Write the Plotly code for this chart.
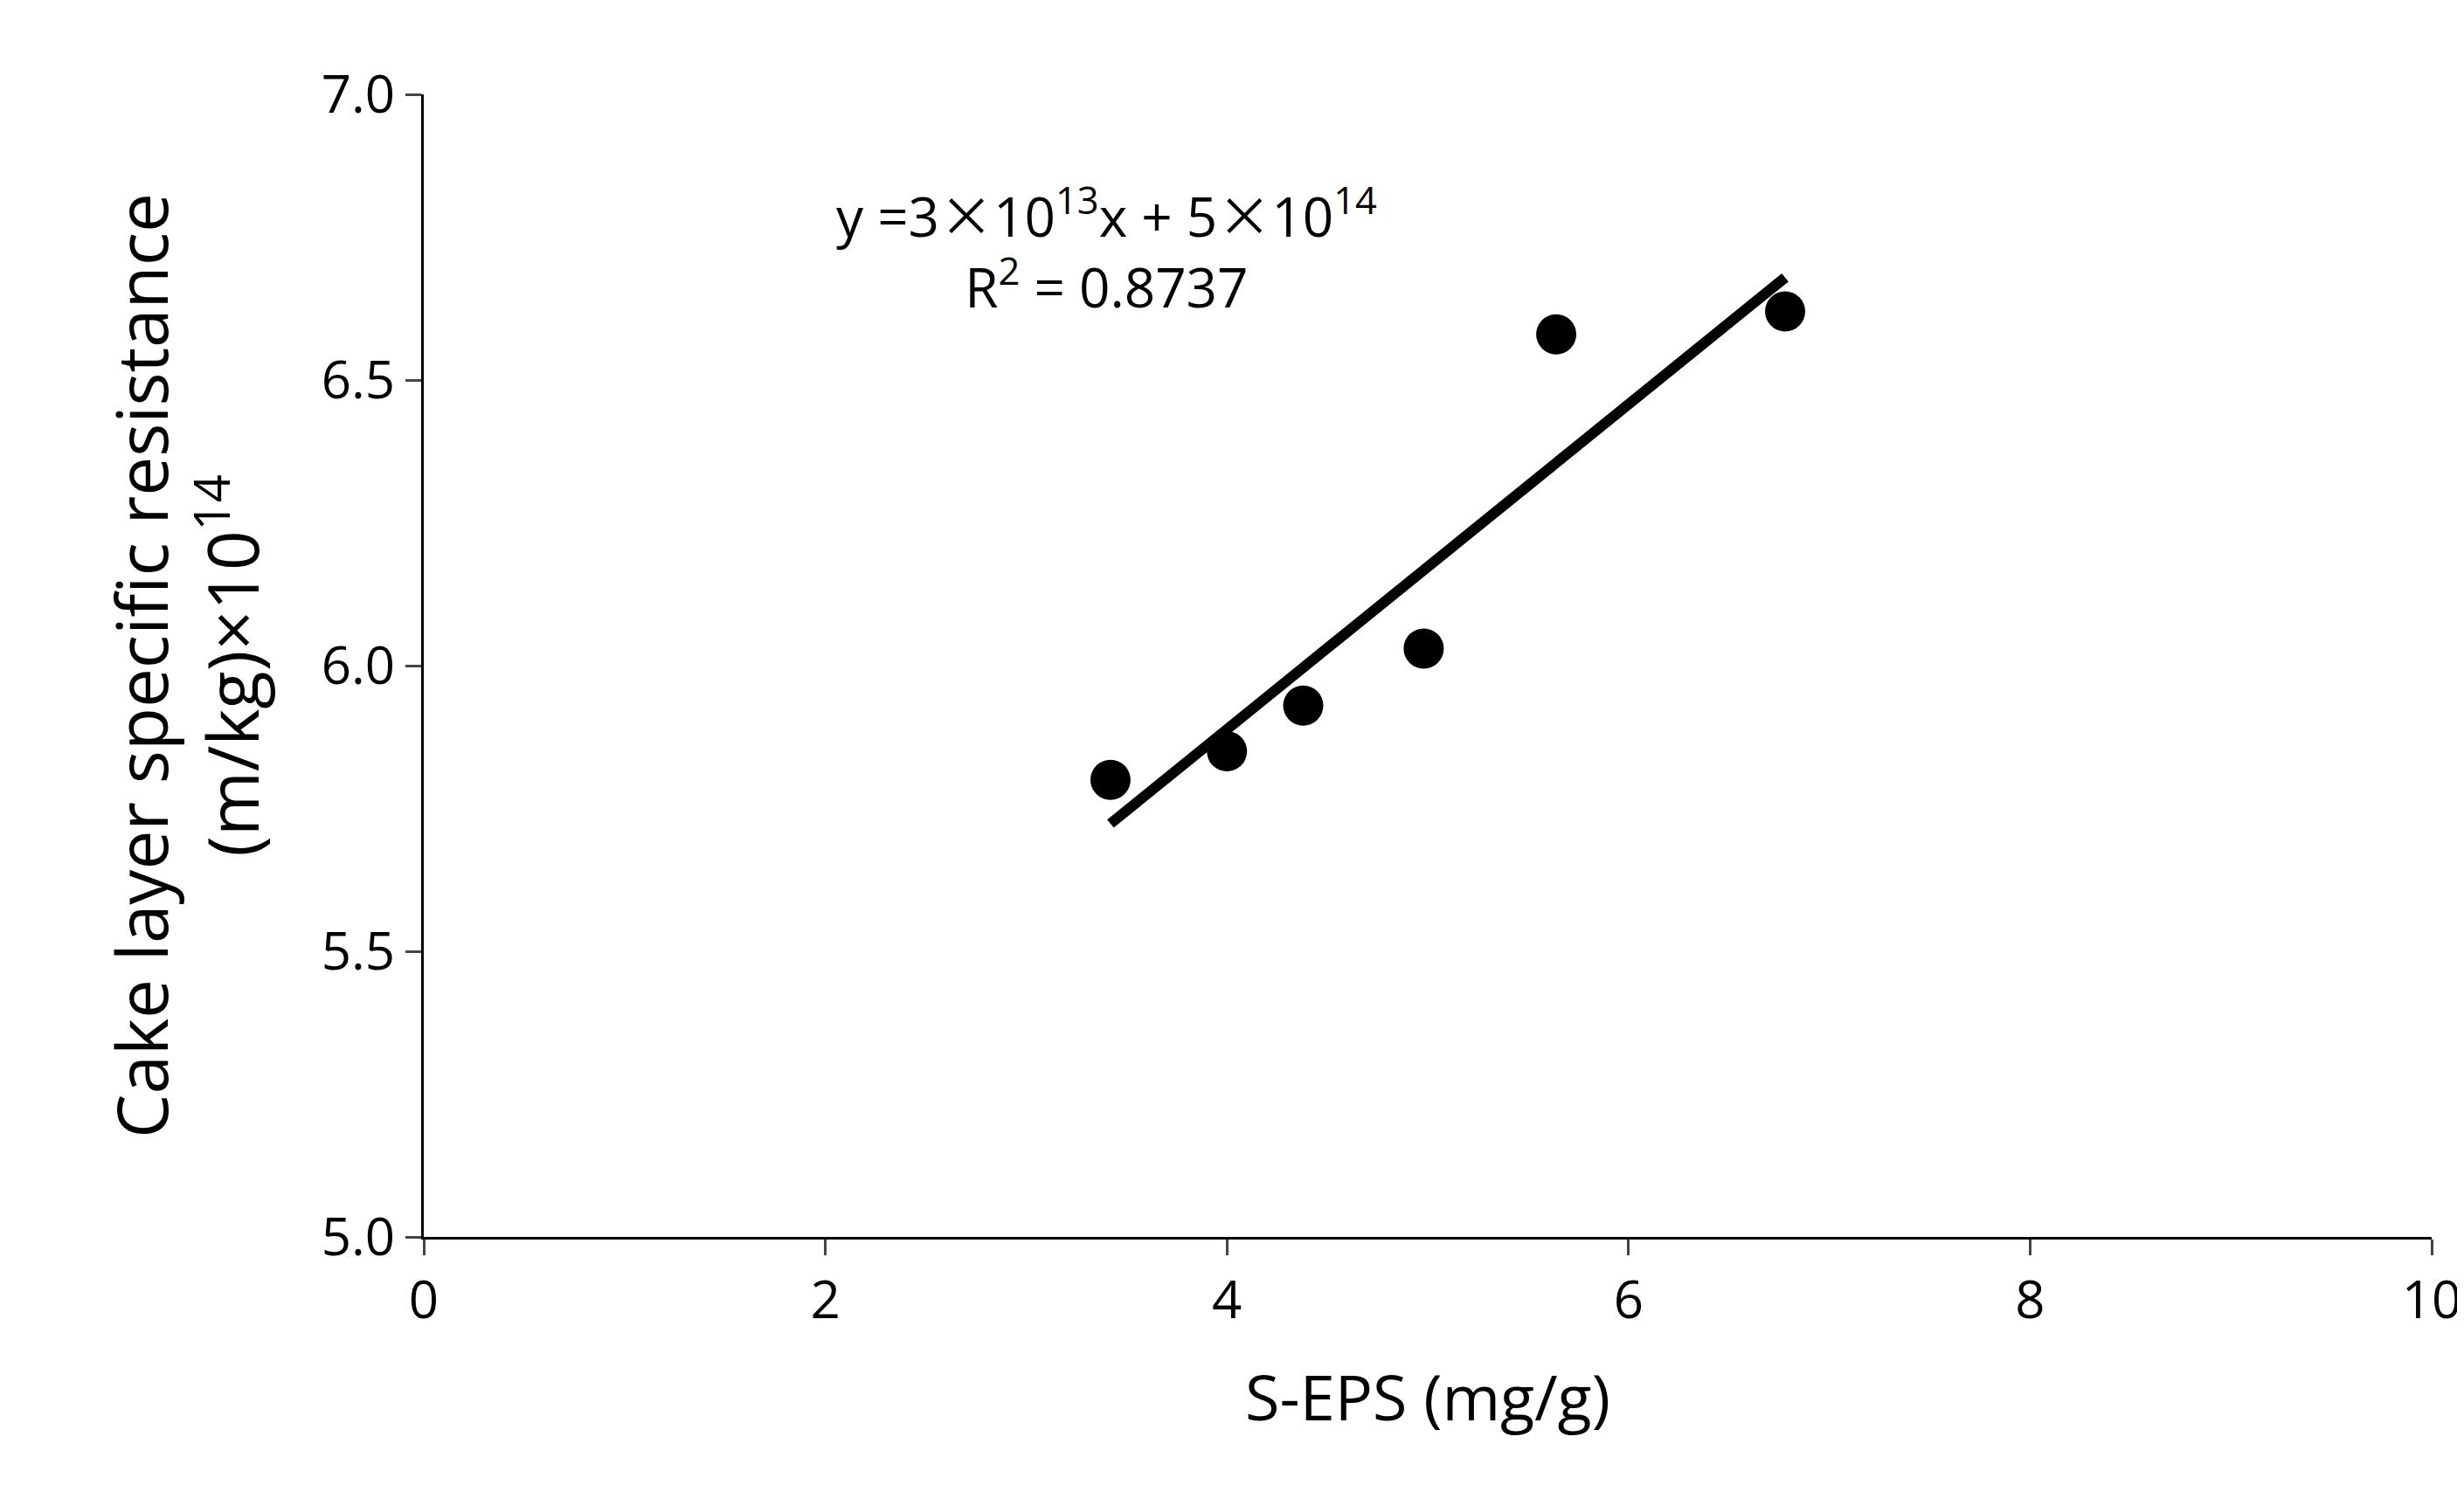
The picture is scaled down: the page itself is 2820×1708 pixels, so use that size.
import numpy as np
import plotly.graph_objects as go

x_vals = [3.42, 4.0, 4.38, 4.98, 5.64, 6.78]
y_vals = [5.80, 5.85, 5.93, 6.03, 6.58, 6.62]
x_ticks = [0, 2, 4, 6, 8, 10]
y_ticks = [5.0, 5.5, 6.0, 6.5, 7.0]

k, b = np.polyfit(x_vals, y_vals, 1)
fx = [min(x_vals), max(x_vals)]
fy = [k * v + b for v in fx]

font = "Open Sans, Liberation Sans, sans-serif"
fig = go.Figure()
fig.add_trace(go.Scatter(x=fx, y=fy, mode="lines", line=dict(color="black", width=12), showlegend=False))
fig.add_trace(go.Scatter(x=x_vals, y=y_vals, mode="markers", marker=dict(color="black", size=46), showlegend=False))

fig.add_annotation(x=3.4, y=6.73, xref="x", yref="y", showarrow=False,
                   text="y =3<span style='font-family:Noto Sans CJK SC'>×</span>10<sup>13</sup>x + 5<span style='font-family:Noto Sans CJK SC'>×</span>10<sup>14</sup><br>R<sup>2</sup> = 0.8737",
                   font=dict(size=62, color="black", family=font), align="center")

fig.update_layout(
    width=2820, height=1708, plot_bgcolor="white", paper_bgcolor="white",
    margin=dict(l=477, r=45, t=100, b=300),
    font=dict(family=font, color="black"),
)
fig.update_xaxes(range=[0, 10], tickvals=x_ticks, ticks="outside", ticklen=18, tickwidth=3,
                 showline=True, linecolor="black", linewidth=3, showgrid=False, zeroline=False,
                 tickfont=dict(size=60), title=dict(text="S-EPS (mg/g)", font=dict(size=72), standoff=50))
fig.update_yaxes(range=[5.0, 7.0], tickvals=y_ticks, tickformat=".1f", ticks="outside", ticklen=18, tickwidth=3,
                 showline=True, linecolor="black", linewidth=3, showgrid=False, zeroline=False,
                 tickfont=dict(size=60),
                 title=dict(text="Cake layer specific resistance<br>(m/kg)×10<sup>14</sup>", font=dict(size=80), standoff=45))
fig.write_html("out.html")
